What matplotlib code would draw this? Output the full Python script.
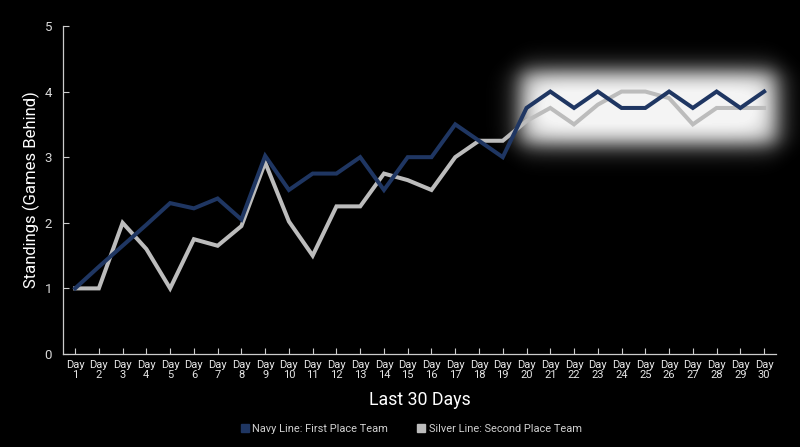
import numpy as np
import matplotlib
matplotlib.use("Agg")
import matplotlib.pyplot as plt
from matplotlib.lines import Line2D

# ------------ Data ------------
days = list(range(1, 31))
day_labels = [f"Day\n{d}" for d in days]
navy = [1.0, 1.33, 1.65, 1.97, 2.3, 2.22, 2.37, 2.05, 3.02, 2.5,
        2.75, 2.75, 3.0, 2.5, 3.0, 3.0, 3.5, 3.25, 3.0, 3.75,
        4.0, 3.75, 4.0, 3.75, 3.75, 4.0, 3.75, 4.0, 3.75, 4.0]
silver = [1.0, 1.0, 2.0, 1.6, 1.0, 1.75, 1.65, 1.95, 2.92, 2.02,
          1.5, 2.25, 2.25, 2.75, 2.65, 2.5, 3.0, 3.25, 3.25, 3.55,
          3.75, 3.5, 3.8, 4.0, 4.0, 3.9, 3.5, 3.75, 3.75, 3.75]
y_ticks = [0, 1, 2, 3, 4, 5]

NAVY = "#1f3662"
SILVER = "#bcbcbc"
TXT = "#e6e6e6"

plt.rcParams["font.family"] = ["Roboto", "DejaVu Sans"]

fig = plt.figure(figsize=(8, 4.47), dpi=100, facecolor="black")
ax = fig.add_axes([0.079, 0.208, 0.891, 0.734], facecolor="black")

# ------------ Glow behind the last days ------------
gx = np.linspace(18.0, 32.0, 700)
gy = np.linspace(2.7, 4.9, 350)
X, Y = np.meshgrid(gx, gy)
fx = 1 / (1 + np.exp(-(X - 19.75) / 0.3)) / (1 + np.exp((X - 30.5) / 0.3))
fy = 1 / (1 + np.exp(-(Y - 3.2) / 0.1)) / (1 + np.exp((Y - 4.3) / 0.1))
glow = np.zeros(X.shape + (4,))
glow[..., :3] = 0.96
glow[..., 3] = np.clip(fx * fy * 1.05, 0, 1)
ax.imshow(glow, extent=(gx[0], gx[-1], gy[0], gy[-1]), origin="lower",
          aspect="auto", zorder=1, clip_on=False, interpolation="bilinear")

# ------------ Lines ------------
ax.plot(days, silver, color=SILVER, lw=2.9, zorder=3, solid_joinstyle="miter")
ax.plot(days, navy, color=NAVY, lw=2.9, zorder=4, solid_joinstyle="miter")

ax.set_xlim(0.5, 30.5)
ax.set_ylim(0, 5)
ax.set_xticks(days)
ax.set_xticklabels(day_labels, fontsize=8, color=TXT, linespacing=1.0)
ax.set_yticks(y_ticks)
ax.set_yticklabels([str(t) for t in y_ticks], fontsize=9.5, color="#d8d8d8")
ax.tick_params(axis="both", direction="in", length=4, color="#cccccc", width=0.8)
ax.tick_params(axis="x", pad=4)
ax.tick_params(axis="y", pad=8)

for side in ["top", "right"]:
    ax.spines[side].set_visible(False)
for side in ["left", "bottom"]:
    ax.spines[side].set_color("#cccccc")
    ax.spines[side].set_linewidth(0.9)

ax.set_ylabel("Standings (Games Behind)", fontsize=12, color="white", labelpad=3)
ax.set_xlabel("Last 30 Days", fontsize=12.8, color="white", labelpad=8)

# ------------ Legend ------------
handles = [
    Line2D([0], [0], marker="s", ls="None", mfc=NAVY, mec=NAVY, ms=6,
           label="Navy Line: First Place Team"),
    Line2D([0], [0], marker="s", ls="None", mfc=SILVER, mec=SILVER, ms=6,
           label="Silver Line: Second Place Team"),
]
fig.legend(handles=handles, loc="lower center", bbox_to_anchor=(0.514, 0.007),
           ncol=2, frameon=False, fontsize=7.9, labelcolor="#d0d0d0",
           handlelength=0.8, handletextpad=0.3, columnspacing=2.6)

fig.savefig("out.png", dpi=100, facecolor="black")
